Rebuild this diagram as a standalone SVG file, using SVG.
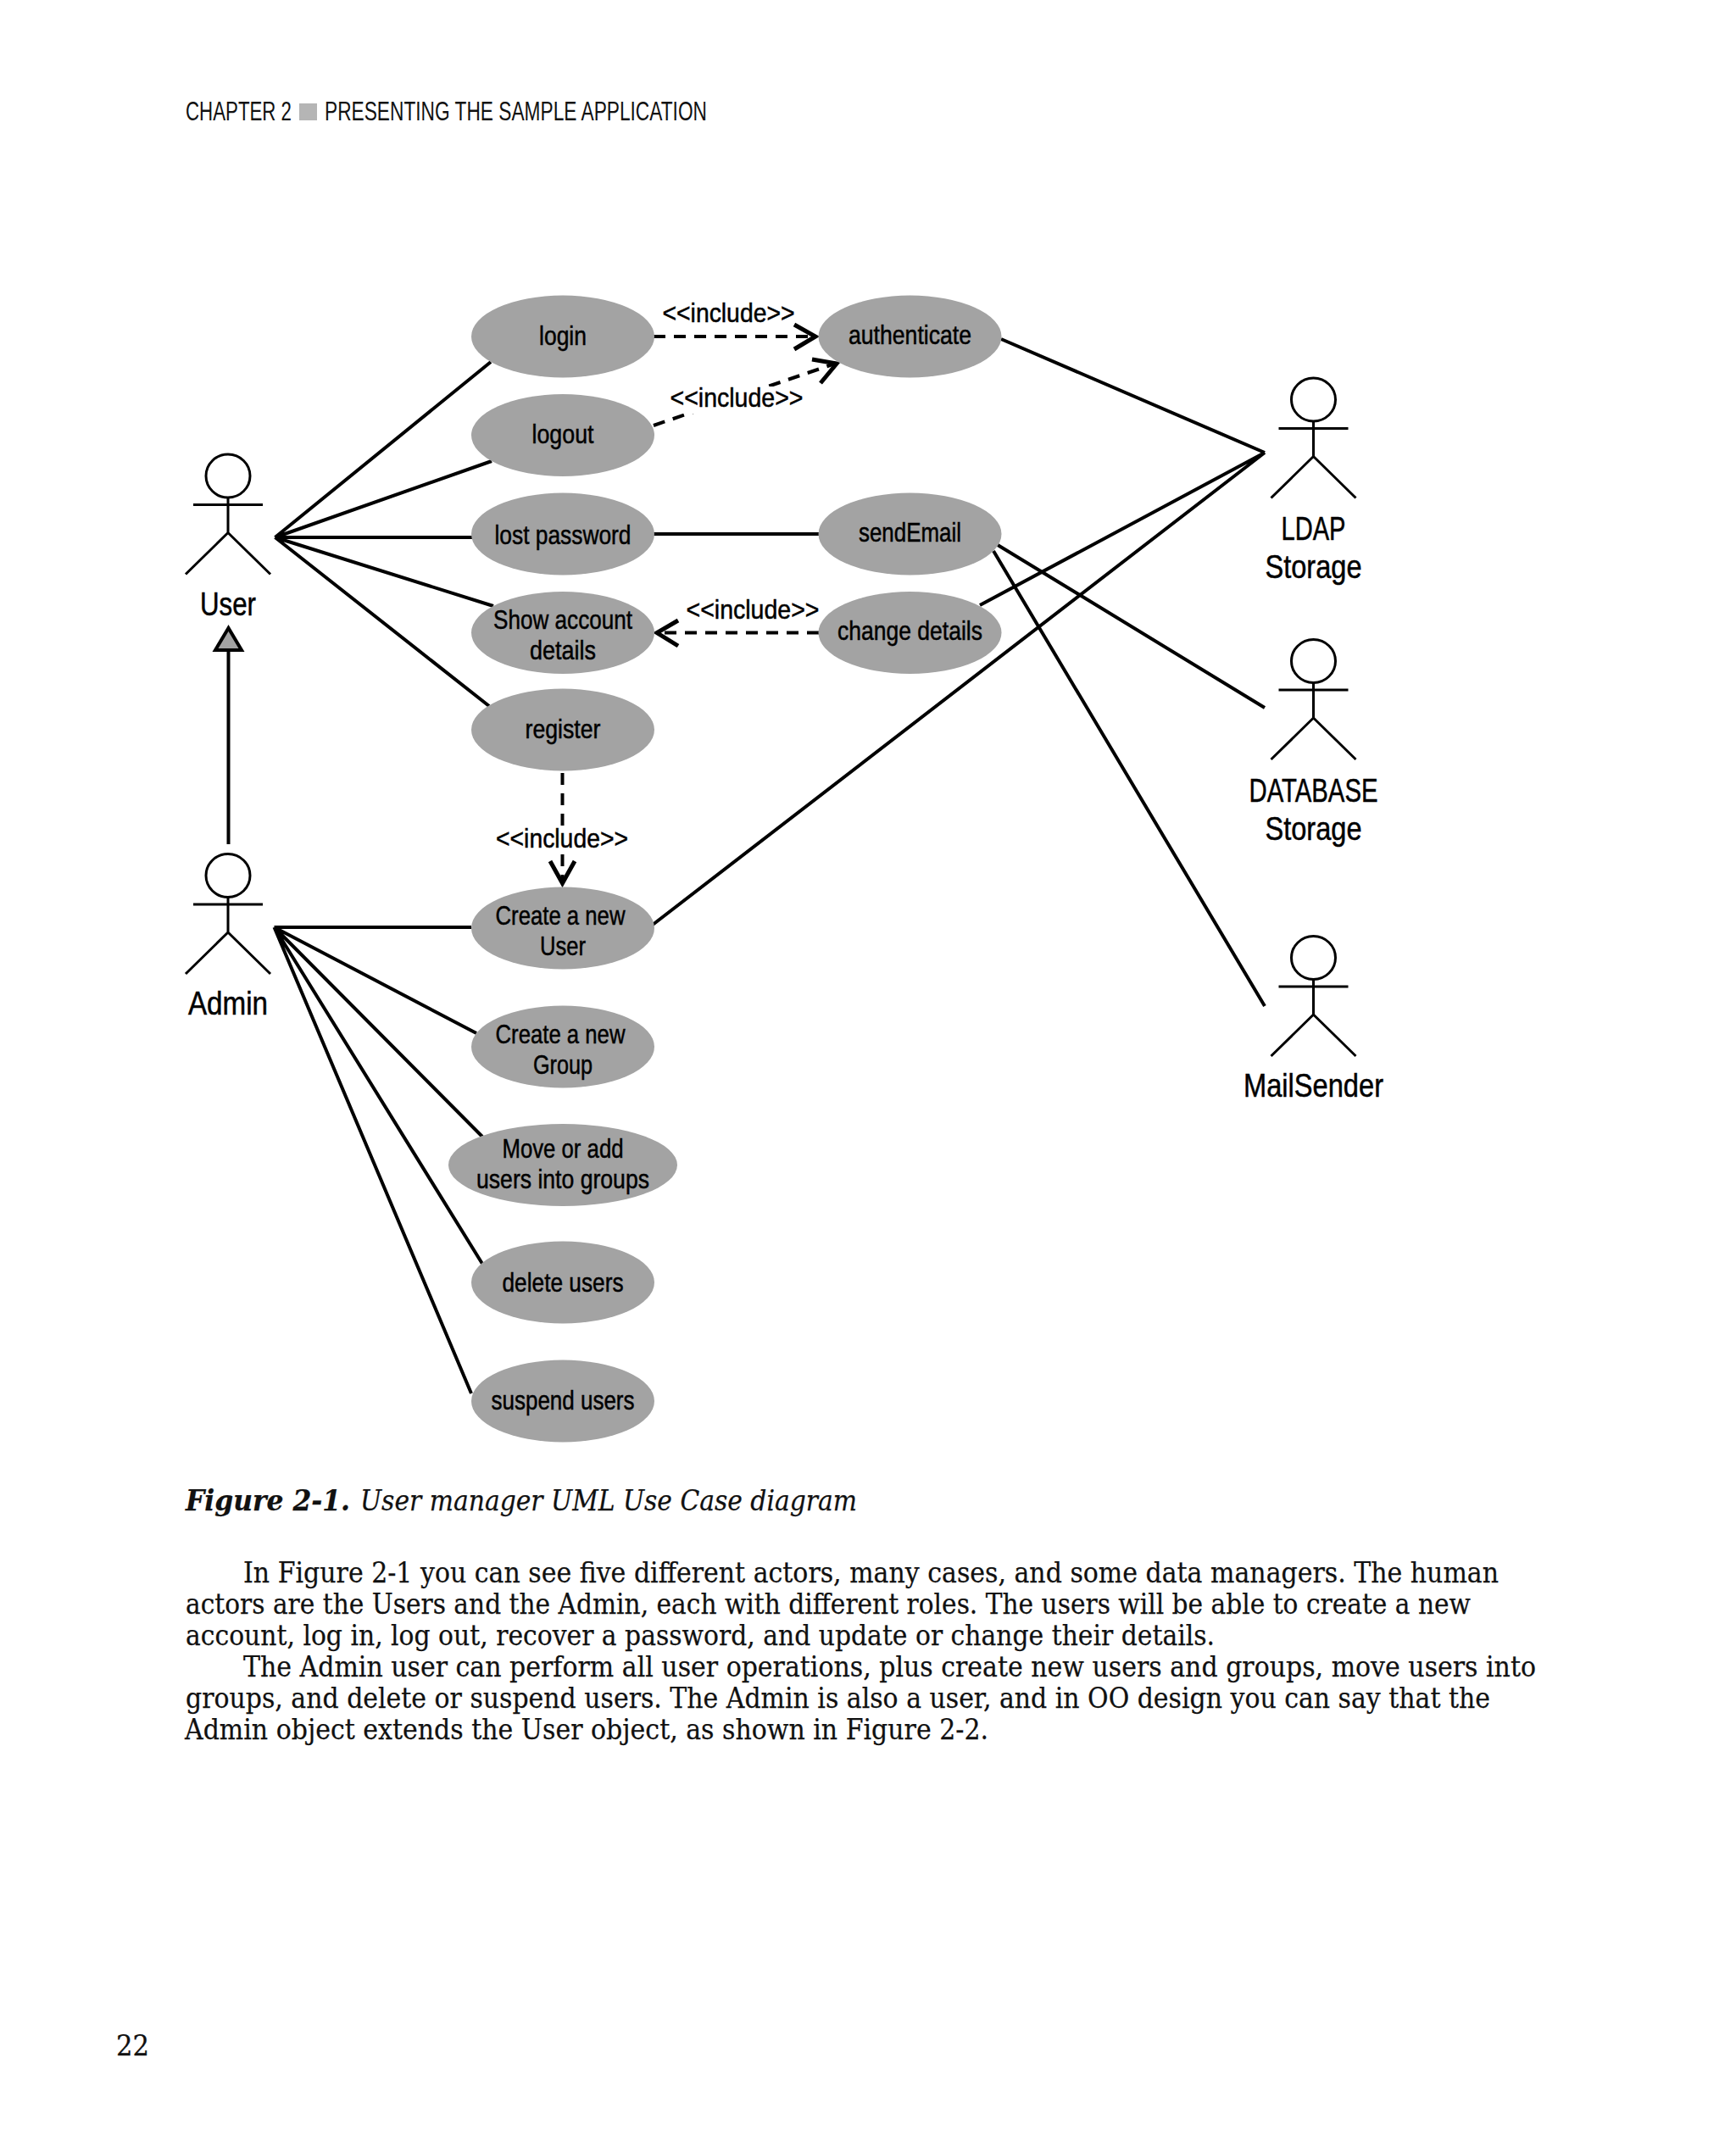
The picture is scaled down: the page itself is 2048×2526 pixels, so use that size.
<svg xmlns="http://www.w3.org/2000/svg" width="2048" height="2526" viewBox="0 0 2048 2526">
<style>
.bg{fill:#fff}
.uc{fill:#a3a3a3;stroke:none}
.t{font-family:"Liberation Sans",Arial,sans-serif;font-size:32px;fill:#000;text-anchor:middle;stroke:#000;stroke-width:.5}
.al{font-size:38px}
.ln{stroke:#000;stroke-width:4;fill:none;stroke-linecap:butt}
.d{stroke-dasharray:14 10}
.ar{stroke:#000;stroke-width:5;fill:none}
.act{stroke:#000;stroke-width:3;fill:none}
.b{font-family:"DejaVu Serif","Liberation Serif",serif;font-size:33px;fill:#111;stroke:#111;stroke-width:.25}
.h{font-family:"Liberation Sans",Arial,sans-serif;font-size:31px;fill:#111}
</style>
<defs>
<g id="stick"><ellipse cx="0" cy="0" rx="26" ry="25.5"/><path d="M0 25.5V67M-41 34H41M-50 116L0 67L50 116"/></g>
</defs>
<rect class="bg" width="2048" height="2526"/>
<g id="header">
<text class="h" x="219" y="142" textLength="125" lengthAdjust="spacingAndGlyphs">CHAPTER 2</text>
<rect x="353" y="122" width="21" height="20" fill="#b5b5b5"/>
<text class="h" x="383" y="142" textLength="451" lengthAdjust="spacingAndGlyphs">PRESENTING THE SAMPLE APPLICATION</text>
</g>
<g id="connectors">
<path class="ln" d="M324.5 634L579 427M324.5 634L580 544M324.5 634H560M324.5 634L582 715M324.5 634L577 833"/>
<path class="ln" d="M771 630H966"/>
<path class="ln" d="M1181 400L1492 534M1156 714L1492 534M770 1091L1492 534"/>
<path class="ln" d="M1177 643L1492 835M1172 650L1492 1187"/>
<path class="ln" d="M323.5 1094H556M323.5 1094L562 1219M323.5 1094L569 1341M323.5 1094L569 1491M323.5 1094L556 1644"/>
<path class="ln" d="M269.5 996V767"/>
<path d="M269.5 741L254 767H285Z" fill="#a3a3a3" stroke="#000" stroke-width="4"/>
<path class="ln d" d="M771 397H960"/>
<path class="ar" d="M937 383L962 397L937 412"/>
<path class="ln d" d="M771 502L985 429"/>
<path class="ar" d="M958 424L987 429L968 452"/>
<path class="ln d" d="M966 746.5H778"/>
<path class="ar" d="M800 732L775 746.5L800 762"/>
<path class="ln d" d="M663.5 912V1040"/>
<path class="ar" d="M649 1016L663.5 1042L678 1016"/>
</g>
<g id="edge-labels">
<rect x="790" y="456" width="158" height="32" fill="#fff"/>
<rect x="585" y="975" width="156" height="32" fill="#fff"/>
<text class="t" x="859.5" y="380" textLength="156" lengthAdjust="spacingAndGlyphs">&lt;&lt;include&gt;&gt;</text>
<text class="t" x="869" y="480" textLength="157" lengthAdjust="spacingAndGlyphs">&lt;&lt;include&gt;&gt;</text>
<text class="t" x="888" y="730" textLength="157" lengthAdjust="spacingAndGlyphs">&lt;&lt;include&gt;&gt;</text>
<text class="t" x="663" y="1000" textLength="156" lengthAdjust="spacingAndGlyphs">&lt;&lt;include&gt;&gt;</text>
</g>
<g id="uc-login"><ellipse class="uc" cx="664" cy="397" rx="108" ry="48.5"/><text class="t" x="664" y="407" textLength="56" lengthAdjust="spacingAndGlyphs">login</text></g>
<g id="uc-logout"><ellipse class="uc" cx="664" cy="513.5" rx="108" ry="48.5"/><text class="t" x="664" y="523" textLength="73" lengthAdjust="spacingAndGlyphs">logout</text></g>
<g id="uc-lost"><ellipse class="uc" cx="664" cy="630" rx="108" ry="48.5"/><text class="t" x="664" y="642" textLength="161" lengthAdjust="spacingAndGlyphs">lost password</text></g>
<g id="uc-show"><ellipse class="uc" cx="664" cy="746.5" rx="108" ry="48.5"/><text class="t" x="664" y="742" textLength="164" lengthAdjust="spacingAndGlyphs">Show account</text><text class="t" x="664" y="778" textLength="78" lengthAdjust="spacingAndGlyphs">details</text></g>
<g id="uc-register"><ellipse class="uc" cx="664" cy="861" rx="108" ry="48.5"/><text class="t" x="664" y="871" textLength="89" lengthAdjust="spacingAndGlyphs">register</text></g>
<g id="uc-create-user"><ellipse class="uc" cx="664" cy="1095" rx="108" ry="48.5"/><text class="t" x="661" y="1091" textLength="153" lengthAdjust="spacingAndGlyphs">Create a new</text><text class="t" x="664" y="1127" textLength="54" lengthAdjust="spacingAndGlyphs">User</text></g>
<g id="uc-create-group"><ellipse class="uc" cx="664" cy="1235" rx="108" ry="48.5"/><text class="t" x="661" y="1231" textLength="153" lengthAdjust="spacingAndGlyphs">Create a new</text><text class="t" x="664" y="1267" textLength="70" lengthAdjust="spacingAndGlyphs">Group</text></g>
<g id="uc-move"><ellipse class="uc" cx="664" cy="1374.5" rx="135" ry="48.5"/><text class="t" x="664" y="1366" textLength="143" lengthAdjust="spacingAndGlyphs">Move or add</text><text class="t" x="664" y="1402" textLength="204" lengthAdjust="spacingAndGlyphs">users into groups</text></g>
<g id="uc-delete"><ellipse class="uc" cx="664" cy="1513" rx="108" ry="48.5"/><text class="t" x="664" y="1524" textLength="143" lengthAdjust="spacingAndGlyphs">delete users</text></g>
<g id="uc-suspend"><ellipse class="uc" cx="664" cy="1653" rx="108" ry="48.5"/><text class="t" x="664" y="1663" textLength="169" lengthAdjust="spacingAndGlyphs">suspend users</text></g>
<g id="uc-auth"><ellipse class="uc" cx="1073.5" cy="397" rx="108" ry="48.5"/><text class="t" x="1073.5" y="406" textLength="145" lengthAdjust="spacingAndGlyphs">authenticate</text></g>
<g id="uc-send"><ellipse class="uc" cx="1073.5" cy="630" rx="108" ry="48.5"/><text class="t" x="1073.5" y="639" textLength="121" lengthAdjust="spacingAndGlyphs">sendEmail</text></g>
<g id="uc-change"><ellipse class="uc" cx="1073.5" cy="746.5" rx="108" ry="48.5"/><text class="t" x="1073.5" y="755" textLength="171" lengthAdjust="spacingAndGlyphs">change details</text></g>
<g id="actor-user"><use href="#stick" x="269" y="561.5" class="act"/><text class="t al" x="269" y="726" textLength="66" lengthAdjust="spacingAndGlyphs">User</text></g>
<g id="actor-admin"><use href="#stick" x="269" y="1033" class="act"/><text class="t al" x="269" y="1197" textLength="94" lengthAdjust="spacingAndGlyphs">Admin</text></g>
<g id="actor-ldap"><use href="#stick" x="1549.5" y="471.5" class="act"/><text class="t al" x="1549.5" y="637" textLength="76" lengthAdjust="spacingAndGlyphs">LDAP</text><text class="t al" x="1549.5" y="682" textLength="114" lengthAdjust="spacingAndGlyphs">Storage</text></g>
<g id="actor-db"><use href="#stick" x="1549.5" y="780" class="act"/><text class="t al" x="1549.5" y="946" textLength="152" lengthAdjust="spacingAndGlyphs">DATABASE</text><text class="t al" x="1549.5" y="991" textLength="114" lengthAdjust="spacingAndGlyphs">Storage</text></g>
<g id="actor-mail"><use href="#stick" x="1549.5" y="1130" class="act"/><text class="t al" x="1549.5" y="1294" textLength="165" lengthAdjust="spacingAndGlyphs">MailSender</text></g>
<g id="text">
<text class="b" x="219" y="1782" font-weight="bold" font-style="italic" textLength="194" lengthAdjust="spacingAndGlyphs">Figure 2-1.</text>
<text class="b" x="425" y="1782" font-style="italic" textLength="586" lengthAdjust="spacingAndGlyphs">User manager UML Use Case diagram</text>
<text class="b" x="287" y="1867" textLength="1481" lengthAdjust="spacingAndGlyphs">In Figure 2-1 you can see five different actors, many cases, and some data managers. The human</text>
<text class="b" x="219" y="1904" textLength="1516" lengthAdjust="spacingAndGlyphs">actors are the Users and the Admin, each with different roles. The users will be able to create a new</text>
<text class="b" x="219" y="1941" textLength="1214" lengthAdjust="spacingAndGlyphs">account, log in, log out, recover a password, and update or change their details.</text>
<text class="b" x="287" y="1977.5" textLength="1525" lengthAdjust="spacingAndGlyphs">The Admin user can perform all user operations, plus create new users and groups, move users into</text>
<text class="b" x="219" y="2014.5" textLength="1539" lengthAdjust="spacingAndGlyphs">groups, and delete or suspend users. The Admin is also a user, and in OO design you can say that the</text>
<text class="b" x="218" y="2051.5" textLength="948" lengthAdjust="spacingAndGlyphs">Admin object extends the User object, as shown in Figure 2-2.</text>
<text class="b" x="137" y="2425" textLength="39" lengthAdjust="spacingAndGlyphs">22</text>
</g>
</svg>
